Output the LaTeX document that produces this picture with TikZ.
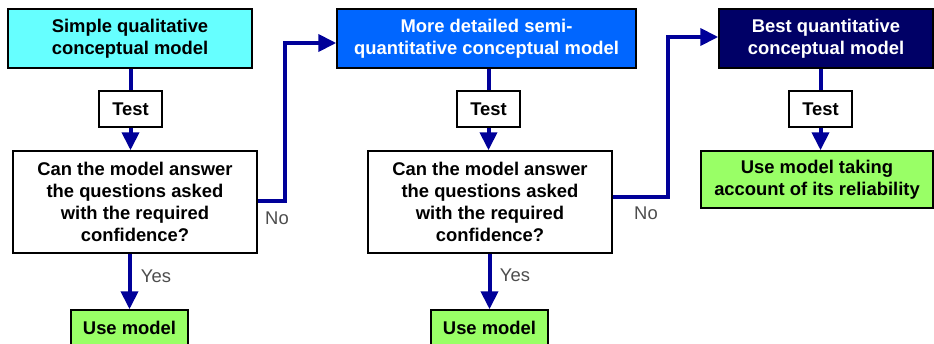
\documentclass[tikz,border=0pt]{standalone}
\usepackage{fontspec}
\setmainfont{Liberation Sans}
\usetikzlibrary{arrows.meta}
\definecolor{cyanfill}{HTML}{66FFFF}
\definecolor{bluefill}{HTML}{0066FF}
\definecolor{navyfill}{HTML}{000066}
\definecolor{greenfill}{HTML}{99FF66}
\definecolor{linecol}{HTML}{000099}
\definecolor{labelcol}{HTML}{4D4D4D}
\tikzset{
  box/.style={draw=black, line width=1.5pt, align=center, inner sep=0pt,
    font=\fontsize{18.4}{22}\selectfont\bfseries},
  modelbox/.style={box, minimum height=59pt},
  testbox/.style={box, fill=white, minimum width=63pt, minimum height=36pt},
  qbox/.style={box, fill=white, minimum width=244pt, minimum height=102pt},
  usebox/.style={box, fill=greenfill},
  conn/.style={draw=linecol, line width=4pt},
  arr/.style={conn, -{Triangle[width=17pt,length=18pt]}},
  lbl/.style={text=labelcol, font=\fontsize{18.4}{22}\selectfont, inner sep=0pt}
}
\begin{document}
\begin{tikzpicture}[x=1pt,y=-1pt]
\useasboundingbox (0,0) rectangle (934,343);
\clip (0,0) rectangle (934,343);
\fill[white] (0,0) rectangle (934,343);
% column 1
\node[modelbox, fill=cyanfill, minimum width=244pt] (b1) at (130,38.5) {Simple qualitative\\conceptual model};
\node[testbox] (t1) at (130.5,109) {Test};
\node[qbox] (q1) at (135,202) {Can the model answer\\the questions asked\\with the required\\confidence?};
\node[usebox, minimum width=117pt, minimum height=36pt] (u1) at (129.5,328) {Use model};
% column 2
\node[modelbox, fill=bluefill, text=white, minimum width=299pt] (b2) at (486.5,38.5) {More detailed semi-\\quantitative conceptual model};
\node[testbox] (t2) at (488.5,109) {Test};
\node[qbox] (q2) at (490,202) {Can the model answer\\the questions asked\\with the required\\confidence?};
\node[usebox, minimum width=117pt, minimum height=36pt] (u2) at (489.5,328) {Use model};
% column 3
\node[modelbox, fill=navyfill, text=white, minimum width=214pt] (b3) at (826,38.5) {Best quantitative\\conceptual model};
\node[testbox] (t3) at (820.5,109) {Test};
\node[usebox, minimum width=232pt, minimum height=57pt] (u3) at (817,179.5) {Use model taking\\account of its reliability};
% connectors column 1
\draw[conn] (t1.north |- b1.south) -- (t1.north);
\draw[arr] (t1.south) -- (t1.south |- q1.north);
\draw[arr] (u1.north |- q1.south) -- (u1.north);
\coordinate (k1) at (285,43);
\draw[arr] ([yshift=1pt]q1.east) -| (k1) -- (k1 -| b2.west);
\node[lbl] (no1) at (277,218) {No};
\node[lbl] (yes1) at (156,276) {Yes};
% connectors column 2
\draw[conn] (t2.north |- b2.south) -- (t2.north);
\draw[arr] (t2.south) -- (t2.south |- q2.north);
\draw[arr] (u2.north |- q2.south) -- (u2.north);
\coordinate (k2) at (668,37);
\draw[arr] ([yshift=5pt]q2.east) -| (k2) -- (k2 -| b3.west);
\node[lbl] (no2) at (646,213) {No};
\node[lbl] (yes2) at (515,275) {Yes};
% connectors column 3
\draw[conn] (t3.north |- b3.south) -- (t3.north);
\draw[arr] (t3.south) -- (t3.south |- u3.north);
\end{tikzpicture}
\end{document}
